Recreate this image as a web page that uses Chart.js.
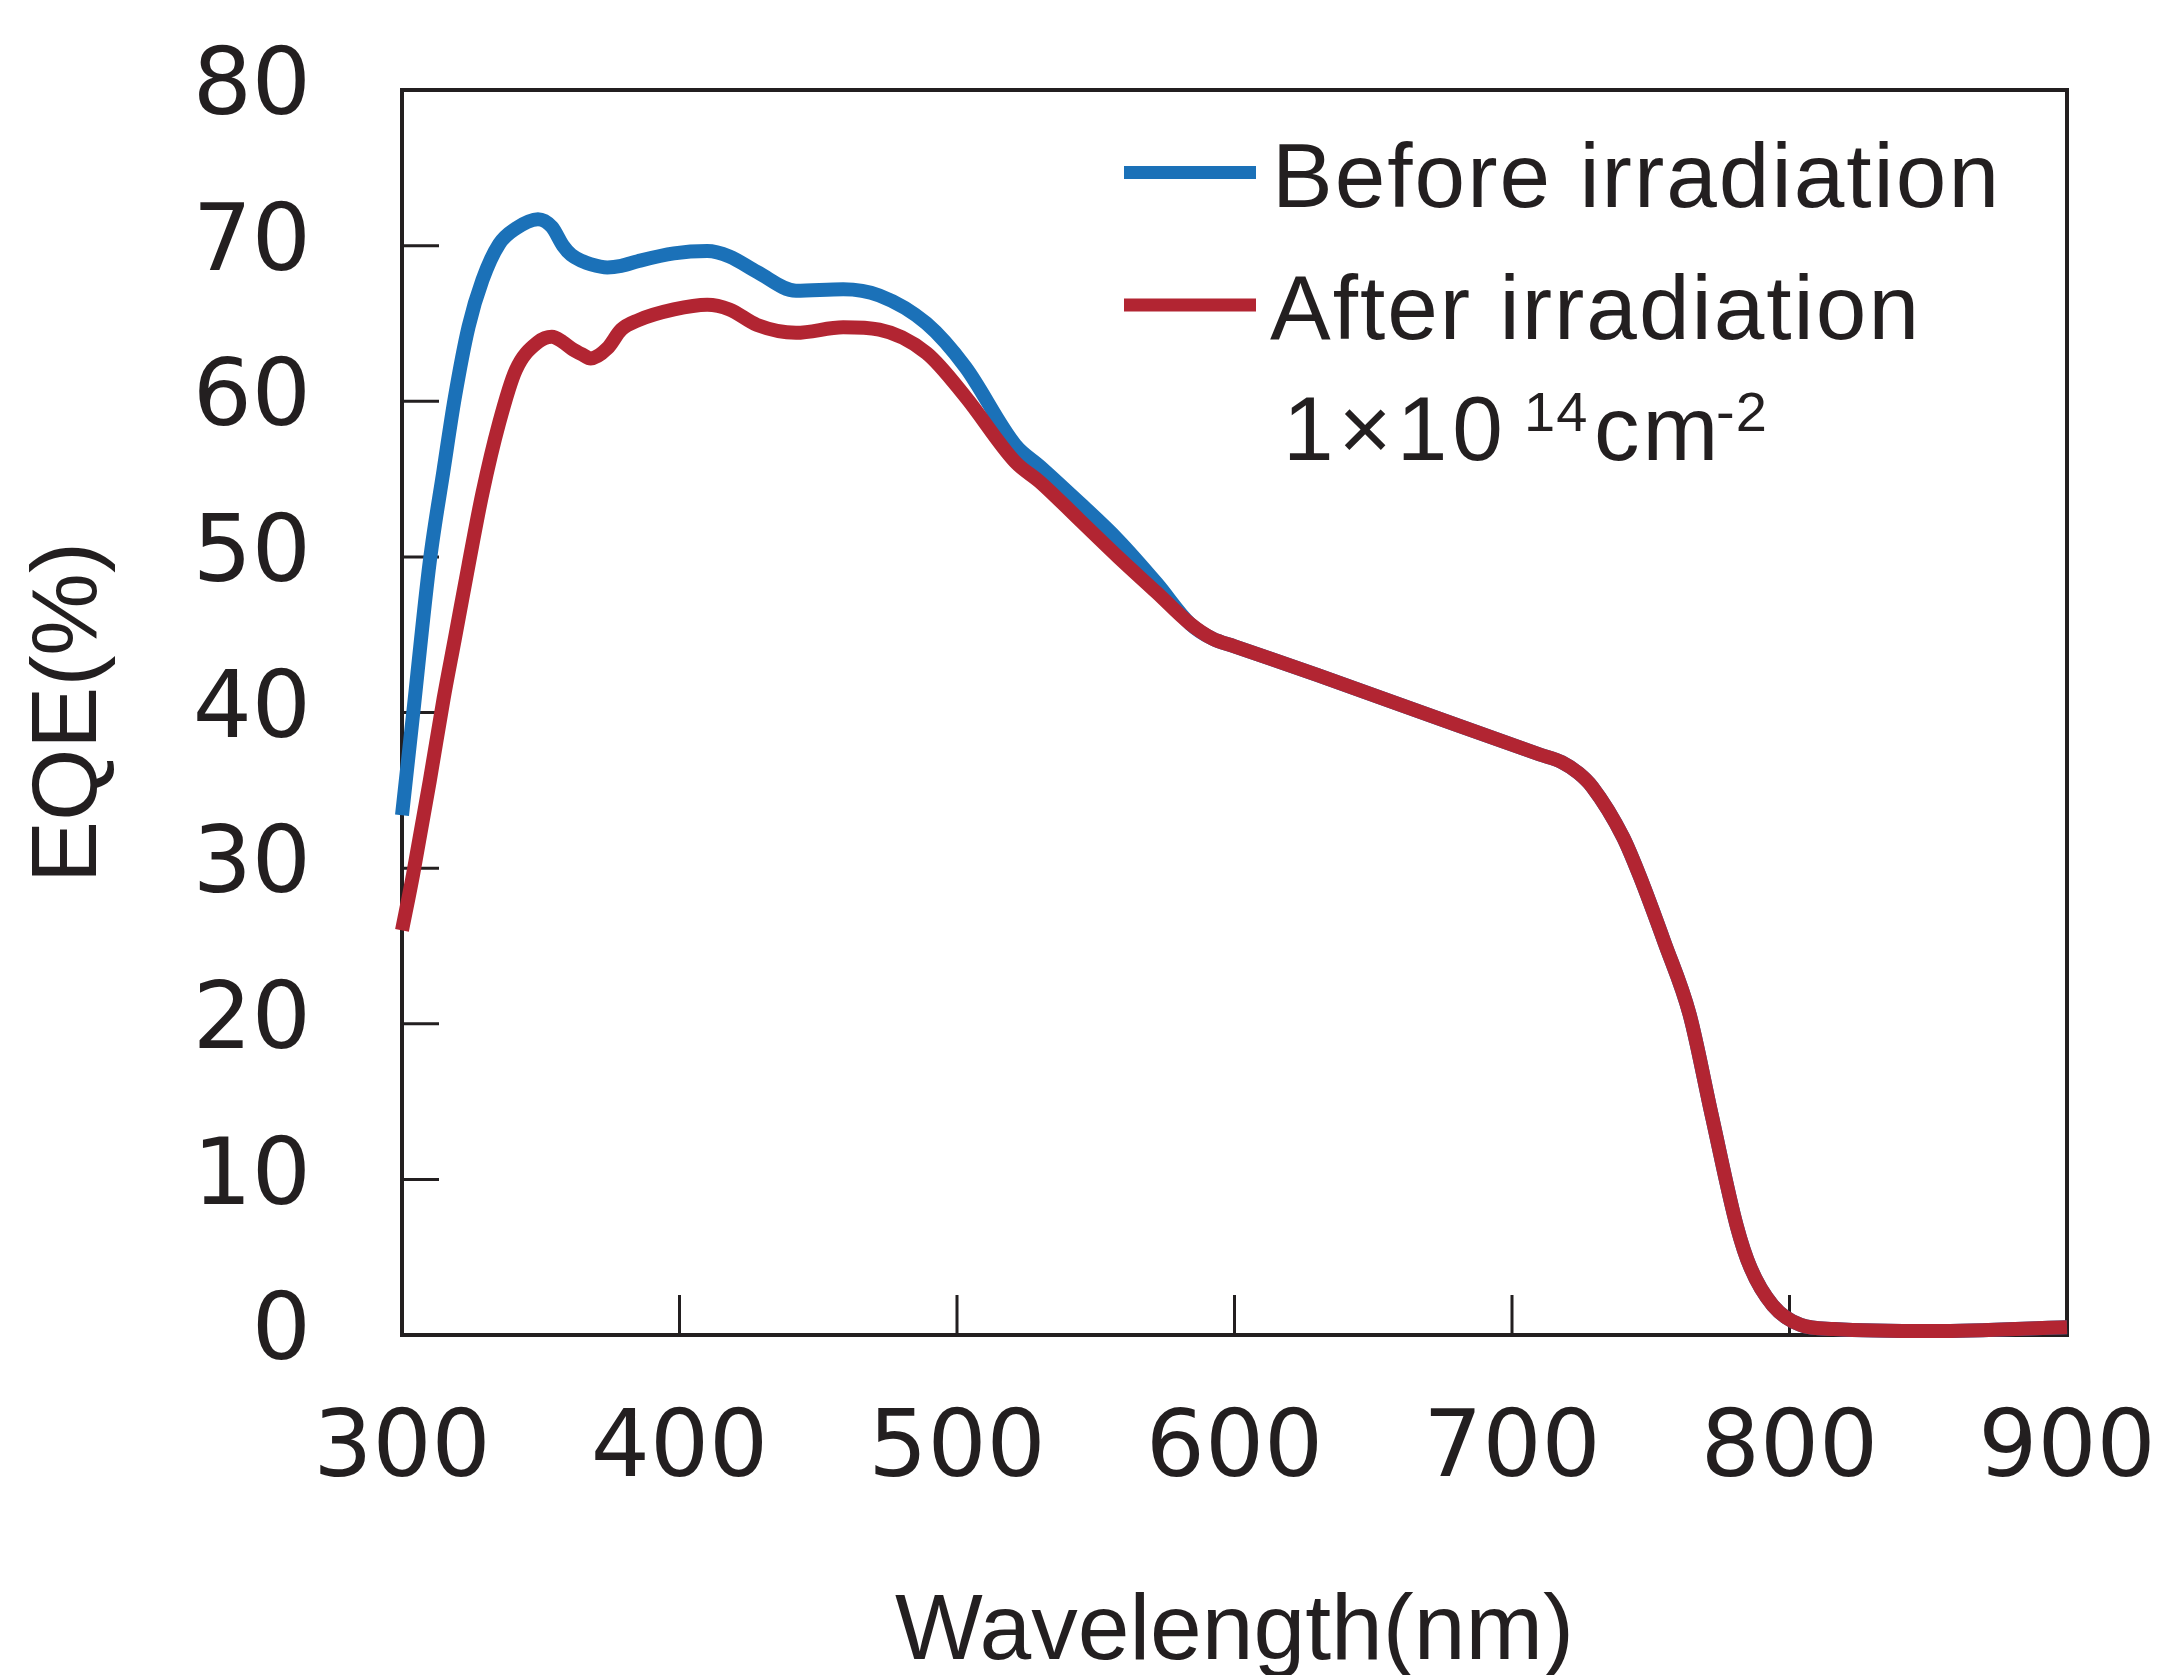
<!DOCTYPE html>
<html>
<head>
<meta charset="utf-8">
<script src="https://cdn.jsdelivr.net/npm/chart.js@4/dist/chart.umd.min.js"></script>
<style>
  html, body { margin: 0; padding: 0; background: #ffffff; overflow: hidden; }
  canvas { display: block; }
</style>
</head>
<body>
<canvas id="c" width="2170" height="1675"></canvas>
<script>
// ---- data ----
const wavelengths = [300,304,310,315,319,324,329,335,341,349,354,358,361,365,368,374,379,385,398,410,418,428,442,459,472,489,503,521,530,544,558,572,584,592,600,630,680,710,718,724,729,740,746,755,764,772,781,786,794,804,816,852,900];
const beforeIrr  = [33.4,39.9,49.7,55.6,60.2,64.8,67.8,70.1,71.1,71.7,71.2,70.0,69.4,69.0,68.8,68.6,68.7,69.0,69.5,69.65,69.3,68.3,67.1,67.2,66.8,65.0,62.2,57.2,55.8,53.5,51.1,48.3,45.7,44.75,44.25,42.4,39.2,37.3,36.8,36.1,35.2,32.0,29.5,25.2,20.6,14.1,7.0,4.3,1.9,0.65,0.38,0.25,0.5];
const afterIrr   = [26.0,29.6,35.6,40.9,44.7,49.5,54.1,58.6,62.0,63.8,64.15,63.8,63.4,63.0,62.75,63.4,64.6,65.2,65.9,66.2,65.9,64.9,64.4,64.75,64.6,63.1,60.3,56.1,54.8,52.4,50.0,47.7,45.7,44.75,44.25,42.4,39.2,37.3,36.8,36.1,35.2,32.0,29.5,25.2,20.6,14.1,7.0,4.3,1.9,0.65,0.38,0.25,0.5];
const seriesNames = ['Before irradiation', 'After irradiation'];
const fluenceBase = '1\u00D710';
const fluenceExp = '14';
const fluenceUnit = 'cm';
const fluenceUnitExp = '-2';
const xTickMarks = [400, 500, 600, 700, 800];
const yTickMarks = [10, 20, 30, 40, 50, 60, 70];

// ---- style ----
const BLUE = '#1b71b8';
const RED = '#b22532';
const INK = '#231f20';
const NUM_FONT = 'DejaVu Sans';
const TXT_FONT = 'Liberation Sans';

const toPts = (vals) => wavelengths.map((w, i) => ({ x: w, y: vals[i] }));

function zeroPadding(scale) {
  scale.paddingTop = 0; scale.paddingBottom = 0;
  scale.paddingLeft = 0; scale.paddingRight = 0;
}

const framePlugin = {
  id: 'frame',
  beforeDatasetsDraw(chart) {
    const { ctx, chartArea: a, scales: { x, y } } = chart;
    ctx.save();
    ctx.strokeStyle = INK;
    ctx.lineWidth = 4;
    ctx.strokeRect(a.left, a.top, a.right - a.left, a.bottom - a.top);
    ctx.lineWidth = 3;
    ctx.beginPath();
    yTickMarks.forEach(v => {
      const py = y.getPixelForValue(v);
      ctx.moveTo(a.left, py); ctx.lineTo(a.left + 37, py);
    });
    xTickMarks.forEach(v => {
      const px = x.getPixelForValue(v);
      ctx.moveTo(px, a.bottom); ctx.lineTo(px, a.bottom - 40);
    });
    ctx.stroke();
    ctx.restore();
  },
  afterDraw(chart) {
    const ctx = chart.ctx;
    ctx.save();
    ctx.lineCap = 'butt';
    ctx.lineWidth = 13;
    ctx.strokeStyle = BLUE;
    ctx.beginPath(); ctx.moveTo(1124, 172.5); ctx.lineTo(1256, 172.5); ctx.stroke();
    ctx.strokeStyle = RED;
    ctx.beginPath(); ctx.moveTo(1124, 305); ctx.lineTo(1256, 305); ctx.stroke();

    ctx.fillStyle = INK;
    ctx.textBaseline = 'alphabetic';
    ctx.textAlign = 'left';
    const hasLS = ('letterSpacing' in ctx);
    if (hasLS) ctx.letterSpacing = '2px';
    ctx.font = '91px "' + TXT_FONT + '"';
    ctx.fillText(seriesNames[0], 1272, 207);
    ctx.fillText(seriesNames[1], 1270, 339);

    if (hasLS) ctx.letterSpacing = '5px';
    ctx.font = '91px "' + TXT_FONT + '"';
    ctx.fillText(fluenceBase, 1283, 460);
    if (hasLS) ctx.letterSpacing = '1px';
    ctx.font = '56px "' + TXT_FONT + '"';
    ctx.fillText(fluenceExp, 1524, 431);
    if (hasLS) ctx.letterSpacing = '3px';
    ctx.font = '91px "' + TXT_FONT + '"';
    ctx.fillText(fluenceUnit, 1594, 460);
    if (hasLS) ctx.letterSpacing = '1px';
    ctx.font = '56px "' + TXT_FONT + '"';
    ctx.fillText(fluenceUnitExp, 1716, 431);
    ctx.restore();
  }
};

new Chart(document.getElementById('c'), {
  type: 'line',
  data: {
    datasets: [
      { label: seriesNames[0], data: toPts(beforeIrr), borderColor: BLUE, borderWidth: 14, order: 2,
        borderJoinStyle: 'round', pointRadius: 0, cubicInterpolationMode: 'monotone', fill: false, clip: false },
      { label: seriesNames[1], data: toPts(afterIrr), borderColor: RED, borderWidth: 14, order: 1,
        borderJoinStyle: 'round', pointRadius: 0, cubicInterpolationMode: 'monotone', fill: false, clip: false }
    ]
  },
  options: {
    responsive: false,
    animation: false,
    devicePixelRatio: 1,
    layout: { padding: { top: 90, right: 103, left: 0, bottom: 0 } },
    plugins: { legend: { display: false }, tooltip: { enabled: false } },
    events: [],
    scales: {
      x: {
        type: 'linear', min: 300, max: 900,
        grid: { display: false, drawTicks: false },
        border: { display: false },
        ticks: { stepSize: 100, padding: 61, color: INK, maxRotation: 0, minRotation: 0, autoSkip: false,
                 font: { family: NUM_FONT, size: 93 } },
        title: { display: true, text: 'Wavelength(nm)', color: INK,
                 font: { family: TXT_FONT, size: 93, lineHeight: 0.9 }, padding: { top: 0, bottom: 0 } },
        afterFit(scale) { scale.height = 340; zeroPadding(scale); }
      },
      y: {
        type: 'linear', min: 0, max: 80,
        grid: { display: false, drawTicks: false },
        border: { display: false },
        ticks: { stepSize: 10, padding: 91, color: INK, font: { family: NUM_FONT, size: 93 } },
        title: { display: true, text: 'EQE(%)', color: INK,
                 font: { family: TXT_FONT, size: 93, lineHeight: 1 }, padding: { top: 24, bottom: 0 } },
        afterFit(scale) { scale.width = 402; zeroPadding(scale); }
      }
    }
  },
  plugins: [framePlugin]
});
</script>
</body>
</html>
